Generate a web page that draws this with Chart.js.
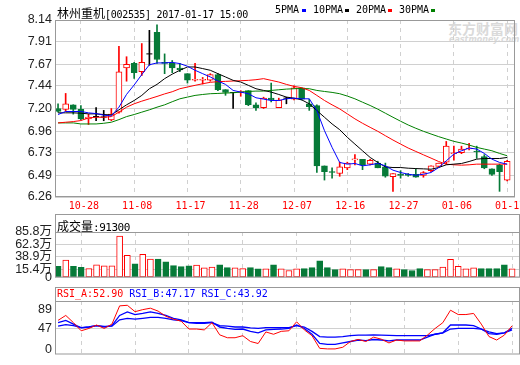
<!DOCTYPE html>
<html>
<head>
<meta charset="utf-8">
<script src="https://cdn.jsdelivr.net/npm/chart.js@4.4.1/dist/chart.umd.min.js"></script>
<style>
  body { margin: 0; background: #fff; }
  #wrap { position: relative; width: 520px; height: 365px; overflow: hidden; background: #fff; }
  #wrap canvas { position: absolute; left: 0; }
  .txt { position: absolute; white-space: pre; font-family: "DejaVu Sans Mono", "Noto Sans CJK SC", monospace; font-size: 10px; line-height: 12px; color: #000; }
  .box { position: absolute; left: 55px; width: 465px; border: 1px solid #999; box-sizing: border-box; }
  .key { position: absolute; width: 4px; height: 3px; top: 9px; }
</style>
</head>
<body>
<div id="wrap">
  <div class="txt" style="left:448px;top:19px;font:bold 14px 'Noto Sans CJK SC';line-height:18px;color:#dadada">东方财富网</div>
  <div class="txt" style="left:449px;top:35px;font:italic bold 8px 'DejaVu Sans';line-height:9px;color:#dadada">eastmoney.com</div>

  <canvas id="price" width="520" height="214" style="top:0"></canvas>
  <canvas id="vol" width="520" height="76" style="top:212px"></canvas>
  <canvas id="rsi" width="520" height="79" style="top:286px"></canvas>

  <div class="txt" style="left:57px;top:4px;letter-spacing:-0.3px"><span style="font:12px 'Noto Sans CJK SC';letter-spacing:0">林州重机</span>[002535] 2017-01-17 15:00</div>
  <div class="txt" style="left:275px;top:4px">5PMA</div><div class="key" style="left:302px;background:#0000ff"></div>
  <div class="txt" style="left:313px;top:4px">10PMA</div><div class="key" style="left:345px;background:#000"></div>
  <div class="txt" style="left:356px;top:4px">20PMA</div><div class="key" style="left:388px;background:#ff0000"></div>
  <div class="txt" style="left:399px;top:4px">30PMA</div><div class="key" style="left:431px;background:#008000"></div>

  <div class="box" style="top:214px;height:19px"></div>
  <div class="txt" style="left:57px;top:217px;font-size:11px;letter-spacing:-0.5px"><span style="font:12px 'Noto Sans CJK SC';letter-spacing:0">成交量</span>:91300</div>

  <div class="box" style="top:287px;height:15px"></div>
  <div class="txt" style="left:57px;top:288px"><span style="color:#ff0000">RSI_A:52.90</span> <span style="color:#0000ff">RSI_B:47.17</span> <span style="color:#0000ff">RSI_C:43.92</span></div>
</div>

<script>
const dates = ['10-25','10-26','10-27','10-28','10-31','11-01','11-02','11-03','11-04','11-07',
  '11-08','11-09','11-10','11-11','11-14','11-15','11-16','11-17','11-18','11-21',
  '11-22','11-23','11-24','11-25','11-28','11-29','11-30','12-01','12-02','12-05',
  '12-06','12-07','12-08','12-09','12-12','12-13','12-14','12-15','12-16','12-19',
  '12-20','12-21','12-22','12-23','12-26','12-27','12-28','12-29','12-30','01-03',
  '01-04','01-05','01-06','01-09','01-10','01-11','01-12','01-13','01-16','01-17']
const dateTicks = ['10-28','11-08','11-17','11-28','12-07','12-16','12-27','01-06','01-17']

const opens = [7.20,7.19,7.24,7.19,7.09,7.115,7.11,7.08,7.16,7.63,
  7.68,7.59,7.78,8.01,7.69,7.68,7.63,7.57,7.50,7.50,
  7.50,7.56,7.40,7.37,7.37,7.39,7.24,7.21,7.31,7.21,
  7.31,7.30,7.42,7.25,7.23,6.59,6.53,6.51,6.57,6.655,
  6.66,6.61,6.62,6.58,6.475,6.50,6.50,6.50,6.49,6.54,
  6.585,6.63,6.72,6.73,6.77,6.745,6.69,6.56,6.60,6.44]
const highs = [7.25,7.36,7.24,7.23,7.14,7.21,7.18,7.20,7.86,7.75,
  7.69,7.89,8.03,8.09,7.78,7.71,7.68,7.57,7.68,7.53,
  7.57,7.57,7.40,7.37,7.39,7.39,7.26,7.32,7.47,7.31,
  7.32,7.44,7.42,7.30,7.24,6.59,6.57,6.63,6.63,6.71,
  6.66,6.66,6.64,6.62,6.51,6.54,6.51,6.56,6.53,6.59,
  6.62,6.85,6.80,6.80,6.83,6.80,6.71,6.56,6.61,6.65]
const lows = [7.16,7.17,7.14,7.08,7.03,7.07,7.07,7.07,7.15,7.49,
  7.52,7.55,7.66,7.68,7.57,7.58,7.59,7.47,7.49,7.46,
  7.49,7.39,7.34,7.20,7.33,7.23,7.18,7.20,7.27,7.21,
  7.25,7.29,7.29,7.18,6.52,6.44,6.46,6.48,6.55,6.60,
  6.55,6.60,6.57,6.47,6.32,6.46,6.48,6.47,6.47,6.53,
  6.58,6.61,6.65,6.72,6.76,6.67,6.56,6.49,6.32,6.43]
const closes = [7.17,7.25,7.19,7.09,7.11,7.115,7.11,7.14,7.59,7.67,
  7.58,7.69,7.78,7.72,7.68,7.63,7.61,7.50,7.51,7.51,
  7.56,7.40,7.37,7.37,7.38,7.24,7.21,7.31,7.29,7.29,
  7.31,7.42,7.30,7.22,6.59,6.53,6.52,6.58,6.62,6.665,
  6.60,6.65,6.57,6.48,6.51,6.49,6.49,6.47,6.52,6.59,
  6.62,6.80,6.73,6.77,6.78,6.74,6.57,6.50,6.53,6.64]

const ma5 = [7.136,7.168,7.168,7.168,7.154,7.146,7.129,7.121,7.214,7.35,
  7.45,7.56,7.665,7.684,7.684,7.69,7.677,7.649,7.606,7.57,
  7.535,7.492,7.456,7.392,7.374,7.357,7.314,7.30,7.285,7.285,
  7.303,7.31,7.303,7.303,7.178,6.965,6.787,6.627,6.609,6.616,
  6.591,6.602,6.616,6.591,6.545,6.52,6.502,6.491,6.502,6.52,
  6.573,6.644,6.716,6.751,6.78,6.769,6.723,6.662,6.627,6.609]
const ma10 = [7.154,7.154,7.154,7.15,7.143,7.143,7.136,7.132,7.186,7.239,
  7.285,7.339,7.41,7.456,7.517,7.565,7.606,7.641,7.641,7.624,
  7.606,7.57,7.535,7.499,7.481,7.446,7.41,7.392,7.374,7.349,
  7.321,7.31,7.292,7.25,7.178,7.107,7.036,6.975,6.894,6.822,
  6.751,6.68,6.627,6.58,6.573,6.573,6.566,6.562,6.559,6.555,
  6.573,6.602,6.609,6.616,6.637,6.662,6.669,6.669,6.669,6.68]
const ma20 = [7.047,7.054,7.061,7.072,7.10,7.107,7.107,7.114,7.161,7.214,
  7.25,7.278,7.303,7.328,7.355,7.378,7.41,7.428,7.446,7.463,
  7.478,7.485,7.488,7.492,7.495,7.499,7.506,7.517,7.499,7.481,
  7.456,7.435,7.421,7.392,7.339,7.285,7.239,7.196,7.143,7.09,
  7.043,7.0,6.958,6.911,6.865,6.822,6.78,6.744,6.708,6.673,
  6.637,6.609,6.602,6.598,6.602,6.609,6.609,6.609,6.609,6.609]
const ma30 = [7.047,7.047,7.047,7.036,7.036,7.036,7.043,7.054,7.082,7.114,
  7.136,7.161,7.186,7.214,7.239,7.272,7.303,7.321,7.339,7.349,
  7.357,7.36,7.364,7.367,7.374,7.381,7.385,7.385,7.392,7.399,
  7.406,7.41,7.413,7.41,7.392,7.381,7.371,7.357,7.332,7.303,
  7.267,7.232,7.193,7.15,7.107,7.065,7.025,6.99,6.958,6.929,
  6.901,6.876,6.851,6.833,6.812,6.787,6.769,6.751,6.723,6.698]

// volume in 万
const volumes = [21.0,33.0,21.0,19.2,16.8,24.0,22.2,22.2,78.0,42.0,
  25.8,43.8,34.8,34.8,29.4,22.5,20.4,22.2,23.4,18.0,
  19.8,24.0,18.6,18.0,16.8,18.6,16.2,16.2,24.0,16.2,
  13.2,16.2,16.8,18.6,31.2,18.6,15.0,16.2,15.0,15.0,
  15.0,15.0,20.4,18.6,16.2,15.0,13.2,16.8,15.0,15.0,
  19.8,34.2,21.0,16.2,18.0,16.8,16.8,16.8,24.0,16.2]

const rsiA = [65.1,76.1,59.9,41.8,47.0,54.7,47.0,56.7,97.5,98.8,
  84.5,89.1,92.3,85.8,74.2,67.7,63.2,45.7,45.7,43.7,
  59.9,32.7,26.2,26.2,30.8,17.8,13.3,39.2,34.0,40.5,
  41.8,61.9,43.7,30.8,2.5,1.2,1.2,4.9,17.8,22.3,
  17.8,27.5,23.0,14.6,21.1,19.1,19.1,19.1,32.1,47.0,
  59.9,87.8,78.1,78.1,80.6,56.7,28.8,21.1,32.1,52.9]
const rsiB = [59.9,65.1,56.7,48.3,50.2,53.4,50.2,53.4,76.1,83.9,
  78.1,80.6,83.9,80.6,76.1,69.6,66.4,59.9,59.9,59.9,
  61.2,50.2,47.0,45.0,45.7,40.5,37.2,43.7,45.0,45.7,
  47.0,54.7,47.0,34.0,13.3,11.3,11.3,14.6,17.8,21.1,
  19.8,22.3,21.1,19.1,21.1,21.1,21.1,21.1,27.5,34.0,
  37.2,54.7,54.7,54.7,53.4,45.7,35.3,34.0,37.2,47.17]
const rsiC = [52.1,55.4,53.4,48.9,50.2,53.4,51.5,52.1,66.4,69.6,
  67.7,69.6,71.6,71.6,69.6,66.4,64.5,59.9,58.6,58.6,
  59.9,53.4,52.1,50.2,50.2,48.3,47.0,48.9,48.9,48.9,
  48.9,53.4,50.2,40.5,28.8,27.5,27.5,28.8,30.8,32.1,
  32.1,32.7,32.1,31.4,30.8,30.8,30.8,30.8,30.8,34.0,
  37.2,45.7,47.0,47.0,47.0,45.7,39.2,35.3,37.2,43.92]

const priceTicks = [8.14, 7.91, 7.67, 7.44, 7.20, 6.96, 6.73, 6.49, 6.26]
const volTicks = [85.8, 62.3, 38.9, 15.4, 0]
const rsiTicks = [89, 47, 0]

const RED = '#ff0000'
const GREEN = '#067a38'
const GRID = '#d0d0d0'

Chart.defaults.font.family = '"Liberation Sans", "Noto Sans CJK SC", sans-serif'
Chart.defaults.animation = false

const tickIdx = dateTicks.map(d => dates.indexOf(d))
const idx = dates.map((d, i) => i)
const isUp = i => closes[i] >= opens[i]

const frame = {
  id: 'frame',
  afterDraw(chart) {
    const { ctx, chartArea: a } = chart
    ctx.save()
    ctx.strokeStyle = '#999'
    ctx.lineWidth = 1
    ctx.strokeRect(a.left + 0.5, a.top + 0.5, a.right - a.left - 1, a.bottom - a.top - 1)
    ctx.restore()
  }
}

const dateLabels = {
  id: 'dateLabels',
  afterDraw(chart) {
    const { ctx } = chart
    const x = chart.scales.x
    ctx.save()
    ctx.font = '10px "DejaVu Sans Mono"'
    ctx.fillStyle = RED
    ctx.textAlign = 'center'
    ctx.textBaseline = 'middle'
    tickIdx.forEach(i => ctx.fillText(dates[i], x.getPixelForValue(i) + 3, 206))
    ctx.restore()
  }
}

function xAxis() {
  return {
    type: 'linear', min: -0.4, max: 60.03, offset: false,
    afterBuildTicks: s => { s.ticks = tickIdx.map(v => ({ value: v })) },
    afterFit: s => { s.height = 0 },
    ticks: { display: false },
    grid: { color: GRID, drawTicks: false, offset: false },
    border: { display: false, dash: [4, 4] }
  }
}

function yAxis(min, max, ticks, label, gridColor) {
  return {
    min: min, max: max,
    afterBuildTicks: s => { s.ticks = ticks.map(v => ({ value: v })) },
    afterFit: s => { s.width = 55 },
    ticks: { padding: 3, color: '#222', font: { size: 12.5 }, autoSkip: false, callback: label },
    grid: { color: gridColor, drawTicks: false },
    border: { display: false }
  }
}

function line(values, color, width) {
  return {
    type: 'line', data: values.map((v, i) => ({ x: i, y: v })),
    borderColor: color, borderWidth: width, pointRadius: 0, tension: 0
  }
}

const baseOpts = {
  responsive: false,
  events: [],
  plugins: { legend: { display: false }, tooltip: { enabled: false } }
}

// price chart
const bodyIdx = idx.filter(i => opens[i] !== closes[i])
const dojiIdx = idx.filter(i => opens[i] === closes[i])

new Chart(document.getElementById('price'), {
  type: 'line',
  data: {
    datasets: [
      line(ma5, '#0000ff', 1),
      line(ma10, '#000000', 1),
      line(ma20, RED, 1),
      line(ma30, '#008000', 1),
      {
        type: 'line', showLine: false,
        data: dojiIdx.map(i => ({ x: i, y: opens[i] })),
        pointStyle: 'line', pointRadius: 3, pointBorderWidth: 1,
        pointBorderColor: '#000', borderColor: '#000'
      },
      {
        type: 'bar', grouped: false, barThickness: 6,
        data: bodyIdx.map(i => ({ x: i, y: [opens[i], closes[i]] })),
        backgroundColor: bodyIdx.map(i => isUp(i) ? '#fff' : GREEN),
        borderColor: bodyIdx.map(i => isUp(i) ? RED : GREEN),
        borderWidth: 1, borderSkipped: false
      },
      {
        type: 'bar', grouped: false, barThickness: 1,
        data: idx.map(i => ({ x: i, y: [lows[i], highs[i]] })),
        backgroundColor: idx.map(i => opens[i] === closes[i] ? '#000' : (isUp(i) ? RED : GREEN)),
        borderWidth: 0
      }
    ]
  },
  options: {
    ...baseOpts,
    layout: { padding: { top: 20, right: 0, bottom: 17, left: 0 } },
    scales: {
      x: xAxis(),
      y: yAxis(6.26, 8.14, priceTicks, v => v.toFixed(2), GRID)
    }
  },
  plugins: [frame, dateLabels]
})

// volume chart
new Chart(document.getElementById('vol'), {
  type: 'bar',
  data: {
    datasets: [{
      grouped: false, barThickness: 6,
      data: idx.map(i => ({ x: i, y: volumes[i] })),
      backgroundColor: idx.map(i => isUp(i) ? '#fff' : GREEN),
      borderColor: idx.map(i => isUp(i) ? RED : GREEN),
      borderWidth: 1, borderSkipped: false
    }]
  },
  options: {
    ...baseOpts,
    layout: { padding: { top: 20, right: 0, bottom: 7, left: 0 } },
    scales: {
      x: xAxis(),
      y: yAxis(0, 85.8, volTicks, v => v === 0 ? '0' : v + '万', GRID)
    }
  },
  plugins: [frame]
})

// rsi chart
new Chart(document.getElementById('rsi'), {
  type: 'line',
  data: {
    datasets: [
      line(rsiA, RED, 1),
      line(rsiB, '#0000ff', 1.3),
      line(rsiC, '#0000ff', 1.3)
    ]
  },
  options: {
    ...baseOpts,
    layout: { padding: { top: 15, right: 0, bottom: 1, left: 0 } },
    scales: {
      x: xAxis(),
      y: yAxis(-11.3, 108.4, rsiTicks, v => String(v),
        c => (c.tick && c.tick.value === 47) ? GRID : 'rgba(0,0,0,0)')
    }
  },
  plugins: [frame]
})
</script>
</body>
</html>
